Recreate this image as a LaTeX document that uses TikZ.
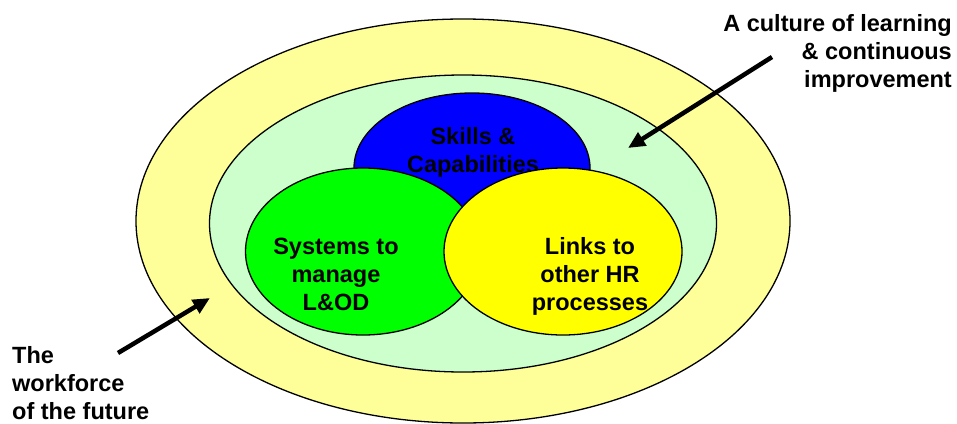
\documentclass[tikz,border=0pt]{standalone}
\usepackage{fontspec}
\setmainfont{Liberation Sans}
\usetikzlibrary{shapes.geometric,arrows.meta}
\definecolor{ringyellow}{HTML}{FFFF99}
\definecolor{ringgreen}{HTML}{CCFFCC}
\definecolor{skillblue}{HTML}{0000FF}
\definecolor{sysgreen}{HTML}{00FF00}
\definecolor{linkyellow}{HTML}{FFFF00}
\begin{document}
\begin{tikzpicture}[x=1pt,y=-1pt,
  blob/.style={ellipse, draw=black, line width=1.3pt, inner sep=0pt},
  lbl/.style={font={\fontsize{23.5}{28}\selectfont\bfseries}, align=center, inner sep=0pt, anchor=base},
  pointer/.style={line width=4.5pt, -{Triangle[length=17pt,width=15pt]}}]
\useasboundingbox (0,0) rectangle (957,423);
% nested rings
\node[blob, fill=ringyellow, minimum width=654pt, minimum height=404pt] (outer) at (463,221) {};
\node[blob, fill=ringgreen, minimum width=507pt, minimum height=297pt] (inner) at (463,223.5) {};
% the three overlapping areas (text anchored at the last line's baseline)
\node[blob, fill=skillblue, minimum width=236pt, minimum height=150pt] (skills) at (472,168) {};
\node[lbl] (skillsText) at (473,172) {Skills \&\\Capabilities};
\node[blob, fill=sysgreen, minimum width=235pt, minimum height=167pt] (systems) at (363,251.5) {};
\node[blob, fill=linkyellow, minimum width=238pt, minimum height=167pt] (links) at (563,251.5) {};
\node[lbl] (systemsText) at (336,310) {Systems to\\manage\\L\&OD};
\node[lbl] (linksText) at (590,310) {Links to\\other HR\\processes};
% callouts
\node[lbl, align=right, anchor=base east] (culture) at (952,87) {A culture of learning\\\& continuous\\improvement};
\node[lbl, align=left, anchor=base west] (workforce) at (12,419) {The\\workforce\\of the future};
\coordinate (cultureTail) at (772,57);
\coordinate (cultureTip) at (628,148);
\coordinate (workTail) at (118,353);
\coordinate (workTip) at (210,298);
\draw[pointer] (cultureTail) -- (cultureTip);
\draw[pointer] (workTail) -- (workTip);
\end{tikzpicture}
\end{document}
